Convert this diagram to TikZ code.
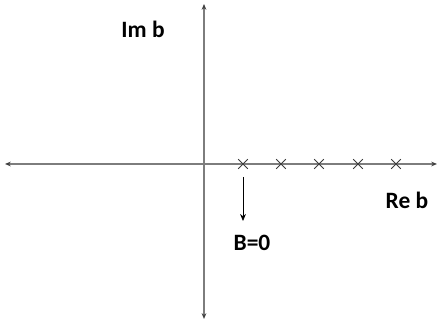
\documentclass[tikz,border=0pt]{standalone}
\usepackage{fontspec}
\setmainfont{Carlito}
\usetikzlibrary{arrows.meta,positioning,shapes.misc}
\definecolor{axisgray}{RGB}{125,125,125}
\definecolor{markgray}{RGB}{60,60,60}

\begin{document}
\begin{tikzpicture}[x=0.03cm, y=-0.03cm,
          axis/.style={<->,line width=1.4pt,axisgray,>={Stealth[length=5pt,width=4pt,black!75]}},
          pole/.style={cross out,draw=markgray,line width=0.7pt,minimum size=7.5pt,inner sep=0pt},
          lbl/.style={font=\fontsize{20}{23}\selectfont\bfseries,inner sep=0pt}
      ]
        \useasboundingbox (0,0) rectangle (438,320);
        \coordinate (o)  at (204,164);
        \coordinate (xl) at (5,164);
        \coordinate (xr) at (437,164);
        \coordinate (yt) at (204,4);
        \coordinate (yb) at (204,319);
        \draw[axis] (xl) -- (xr);
        \draw[axis] (yb) -- (yt);
        % poles on the real axis
        \foreach \i/\x in {1/243,2/281,3/319,4/358,5/396}
          \node[pole] (p\i) at (\x,164) {};
        \node[lbl] (im) at (143,29)  {Im b};
        \node[lbl] (re) at (407,200) {Re b};
        \node[lbl] (b0) at (252,243) {B=0};
        \coordinate (tip) at (243,221);
        \draw[-{Stealth[length=6pt,width=5pt]},line width=0.7pt] (p1) ++(0,13) -- (tip);
      \end{tikzpicture}
\end{document}
